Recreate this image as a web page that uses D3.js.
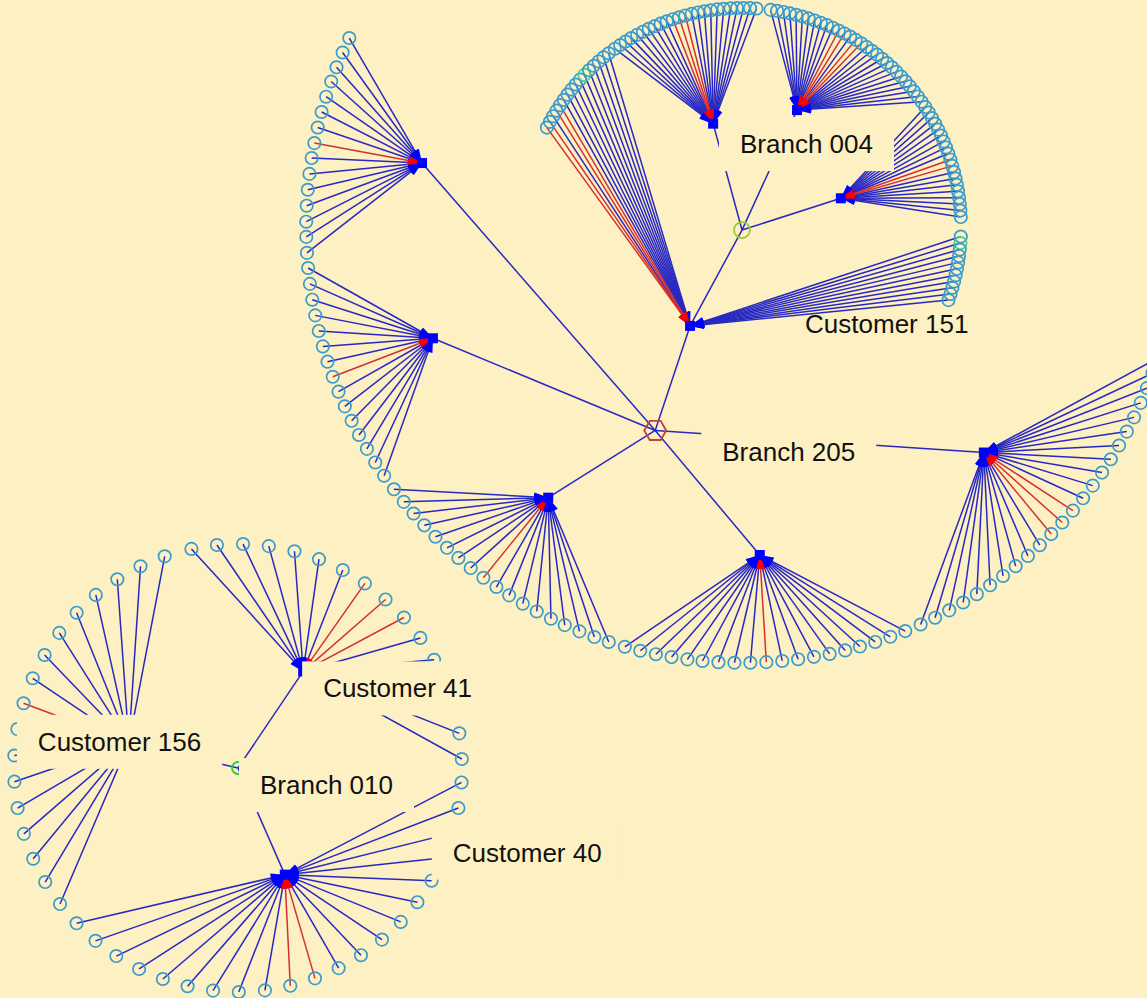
<!DOCTYPE html>
<html>
<head>
<meta charset="utf-8">
<script src="https://cdn.jsdelivr.net/npm/d3@7"></script>
<style>
  body { margin: 0; background: #fdf0c2; }
  svg { display: block; }
</style>
</head>
<body>
<script>
/******************/
/*     data       */
/******************/
// angles are in degrees, clockwise from east
// distances are in "ring units" (1 = the leaf ring of the inner tree)

// network 1 : Branch 205 / Branch 004
var hubIds1    = ["Branch 205", "w1", "w2", "sw", "s", "e", "Customer 151", "Branch 004", "n1", "n2", "ne"];
var hubParent1 = [null, "Branch 205", "Branch 205", "Branch 205", "Branch 205", "Branch 205", "Branch 205", "Customer 151", "Branch 004", "Branch 004", "Branch 004"];
var hubAngle1  = [113.1, 191.3, 160.2, 125.6, 86.9, 43.0, 117.7, 90, 254.4, 295.2, 343.8];
var hubDist1   = [1.01, 1.49, 1.50, 1.52, 1.50, 1.51, 0.51, 0.014, 0.49, 0.59, 0.47];
var leafRing1  = [0, 1.99, 1.99, 1.99, 1.99, 1.99, 1.0, 0, 1.0, 1.0, 1.0];

var leavesW1 = [205.7, 203.6, 201.5, 199.5, 197.4, 195.3, 193.2, 191.1, 189.1, 187.0, 184.9, 182.8, 180.7, 178.7, 176.6];
var redW1 = [7];
var leavesW2 = [174.6, 172.5, 170.4, 168.3, 166.2, 164.1, 162.0, 159.9, 157.8, 155.7, 153.6, 151.5, 149.4, 147.3, 145.2];
var redW2 = [7];
var leavesSW = [143.0, 140.9, 138.9, 136.8, 134.7, 132.6, 130.6, 128.5, 126.4, 124.3, 122.3, 120.2, 118.1, 116.0, 114.0, 111.9, 109.8, 107.8];
var redSW = [8];
var leavesS = [105.6, 103.5, 101.4, 99.3, 97.2, 95.2, 93.1, 91.0, 88.9, 86.8, 84.7, 82.6, 80.5, 78.4, 76.3, 74.3, 72.2, 70.1, 68.0];
var redS = [9];
var leavesE = [65.8, 63.7, 61.6, 59.5, 57.4, 55.3, 53.2, 51.1, 49.0, 46.9, 44.8, 42.7, 40.6, 38.5, 36.4, 34.3, 32.2, 30.1, 28.0, 25.9, 23.8, 21.7, 19.6, 17.5];
var redE = [10, 11, 12];
var leaves151 = [207.0, 208.7, 210.4, 212.1, 213.8, 215.5, 217.2, 218.9, 220.6, 222.3, 224.0, 225.7, 227.4, 229.1, 230.8, 232.5,
                 2.5, 4.2, 5.9, 7.6, 9.3, 11.0, 12.7, 14.4, 16.1, 17.8, 19.5];
var red151 = [0, 1, 3, 4];
var green151 = [10, 17];
var leavesN1 = [234.5, 236.2, 237.9, 239.6, 241.4, 243.1, 244.8, 246.5, 248.2, 249.9, 251.6, 253.3, 255.0, 256.7, 258.4, 260.1,
                261.8, 263.5, 265.2, 267.0, 268.7, 270.4, 272.1, 273.8];
var redN1 = [10, 11, 12];
var leavesN2 = [277.5, 279.2, 280.9, 282.6, 284.3, 286.0, 287.7, 289.4, 291.1, 292.8, 294.5, 296.2, 297.9, 299.6, 301.3, 303.0,
                304.7, 306.4, 308.1, 309.8, 311.5, 313.2, 314.9, 316.6, 318.3, 320.0, 321.7, 323.4, 325.1];
var redN2 = [11, 12, 14, 15];
var leavesNE = [326.8, 328.5, 330.2, 331.9, 333.6, 335.3, 337.0, 338.7, 340.4, 342.1, 343.8, 345.5, 347.2, 348.9, 350.6, 352.3, 354.0, 355.7, 357.4];
var redNE = [9, 10];

// network 2 : Branch 010
var hubIds2    = ["Branch 010", "Customer 41", "Customer 156", "Customer 40"];
var hubParent2 = [null, "Branch 010", "Branch 010", "Branch 010"];
var hubAngle2  = [0, 304.0, 193.0, 66.3];
var hubDist2   = [0, 0.52, 0.50, 0.52];
var leafRing2  = [0, 1.0, 1.0, 1.0];

var leaves41 = [258.0, 264.6, 271.3, 277.9, 284.6, 291.2, 297.9, 304.5, 311.2, 317.8, 324.5, 331.1, 337.8, 344.4, 351.1, 357.7];
var red41 = [7, 8, 9];
var leaves156 = [142.6, 149.4, 156.1, 162.9, 169.7, 176.5, 183.2, 190.0, 196.8, 203.6, 210.3, 217.1, 223.9, 230.6, 237.4, 244.2, 250.9];
var red156 = [8];
var leaves40 = [3.7, 10.3, 16.9, 23.6, 30.2, 36.8, 43.4, 50.0, 56.7, 63.3, 69.9, 76.5, 83.1, 89.8, 96.4, 103.0, 109.6, 116.2, 122.9, 129.5, 136.1];
var red40 = [10, 11];

// labels
var labelText = ["Branch 004", "Customer 151", "Branch 205", "Customer 41", "Customer 156", "Branch 010", "Customer 40"];

/******************/
/*   d3 init var  */
/******************/
var width = 1147, height = 998;
var bg = "#fdf0c2";
var lineBlue = "#2828c4", headBlue = "#0000ff";
var lineRed = "#d43030", headRed = "#ff0000";
var leafColor = "#3a9ccc", leafGreen = "#3fcf90";

var svg = d3.select("body").append("svg")
  .attr("width", width).attr("height", height)
  .style("background", bg)
  .style("font-family", "'Liberation Sans', Arial, sans-serif");

var defs = svg.append("defs");
[["arrBlue", headBlue], ["arrRed", headRed]].forEach(function(m) {
  defs.append("marker")
    .attr("id", m[0])
    .attr("viewBox", "0 -5 14 10")
    .attr("refX", 14).attr("refY", 0)
    .attr("markerWidth", 14).attr("markerHeight", 10)
    .attr("markerUnits", "userSpaceOnUse")
    .attr("orient", "auto")
    .append("path").attr("d", "M0,-4.5L14,0L0,4.5Z").attr("fill", m[1]);
});

var angle = d3.scaleLinear().domain([0, 360]).range([0, 2 * Math.PI]);

// one network = hubs + leaves, laid out round a centre
function makeNet(cx, cy, unit) {
  return {
    x: d3.scaleLinear().domain([-1, 1]).range([cx - unit, cx + unit]),
    y: d3.scaleLinear().domain([-1, 1]).range([cy - unit, cy + unit])
  };
}
var net1 = makeNet(742, 227, 219);
var net2 = makeNet(238, 768, 224);

function pos(net, a, d) {
  return [net.x(d * Math.cos(angle(a))), net.y(d * Math.sin(angle(a)))];
}

var hubs = {}, links = [], edges = [], leafNodes = [];

function buildNet(net, ids, parents, angs, dists, rings, leafSets) {
  ids.forEach(function(id, i) {
    var p = pos(net, angs[i], dists[i]);
    hubs[id] = { id: id, x: p[0], y: p[1] };
  });
  ids.forEach(function(id, i) {
    if (parents[i]) links.push({ s: hubs[parents[i]], t: hubs[id] });
  });
  leafSets.forEach(function(ls) {
    var i = ids.indexOf(ls.hub), h = hubs[ls.hub];
    ls.angles.forEach(function(a, k) {
      var p = pos(net, a, rings[i]);
      var red = ls.red.indexOf(k) >= 0;
      var green = (ls.green || []).indexOf(k) >= 0;
      edges.push({ x1: p[0], y1: p[1], x2: h.x, y2: h.y, red: red });
      leafNodes.push({ x: p[0], y: p[1], green: green });
    });
  });
}

buildNet(net1, hubIds1, hubParent1, hubAngle1, hubDist1, leafRing1, [
  { hub: "w1", angles: leavesW1, red: redW1 },
  { hub: "w2", angles: leavesW2, red: redW2 },
  { hub: "sw", angles: leavesSW, red: redSW },
  { hub: "s", angles: leavesS, red: redS },
  { hub: "e", angles: leavesE, red: redE },
  { hub: "Customer 151", angles: leaves151, red: red151, green: green151 },
  { hub: "n1", angles: leavesN1, red: redN1 },
  { hub: "n2", angles: leavesN2, red: redN2 },
  { hub: "ne", angles: leavesNE, red: redNE }
]);
buildNet(net2, hubIds2, hubParent2, hubAngle2, hubDist2, leafRing2, [
  { hub: "Customer 41", angles: leaves41, red: red41 },
  { hub: "Customer 156", angles: leaves156, red: red156 },
  { hub: "Customer 40", angles: leaves40, red: red40 }
]);

/******************/
/*    d3 draw     */
/******************/
// hub to hub links
svg.append("g").selectAll("line").data(links).enter().append("line")
  .attr("x1", function(d) { return d.s.x; }).attr("y1", function(d) { return d.s.y; })
  .attr("x2", function(d) { return d.t.x; }).attr("y2", function(d) { return d.t.y; })
  .attr("stroke", lineBlue).attr("stroke-width", 1.5);

// leaf edges, blue first then red on top
edges.sort(function(a, b) { return a.red - b.red; });
svg.append("g").selectAll("line").data(edges).enter().append("line")
  .attr("x1", function(d) { return d.x1; }).attr("y1", function(d) { return d.y1; })
  .attr("x2", function(d) { return d.x2; }).attr("y2", function(d) { return d.y2; })
  .attr("stroke", function(d) { return d.red ? lineRed : lineBlue; })
  .attr("stroke-width", 1.5)
  .attr("marker-end", function(d) { return d.red ? "url(#arrRed)" : "url(#arrBlue)"; });

// leaves
svg.append("g").selectAll("circle").data(leafNodes).enter().append("circle")
  .attr("cx", function(d) { return d.x; }).attr("cy", function(d) { return d.y; })
  .attr("r", 6.2)
  .attr("fill", "none")
  .attr("stroke", function(d) { return d.green ? leafGreen : leafColor; })
  .attr("stroke-width", 1.7);

// hub squares
var plain = Object.keys(hubs).filter(function(k) { return k.indexOf("Branch") < 0; });
svg.append("g").selectAll("rect").data(plain).enter().append("rect")
  .attr("x", function(k) { return hubs[k].x - 5; }).attr("y", function(k) { return hubs[k].y - 5; })
  .attr("width", 10).attr("height", 10).attr("fill", headBlue);

// branch symbols
var hex = d3.range(6).map(function(i) {
  var a = Math.PI / 3 * i;
  return [hubs["Branch 205"].x + 11 * Math.cos(a), hubs["Branch 205"].y + 11 * Math.sin(a)];
});
svg.append("polygon").attr("points", hex.join(" "))
  .attr("fill", "none").attr("stroke", "#c8403a").attr("stroke-width", 1.8);
svg.append("circle").attr("cx", hubs["Branch 004"].x).attr("cy", hubs["Branch 004"].y).attr("r", 8)
  .attr("fill", "none").attr("stroke", "#9cc83a").attr("stroke-width", 1.8);
svg.append("circle").attr("cx", hubs["Branch 010"].x).attr("cy", hubs["Branch 010"].y).attr("r", 6)
  .attr("fill", "none").attr("stroke", "#2ecc40").attr("stroke-width", 1.8);

/*************************/
/*        labels         */
/*************************/
// offset of each text from the node it names, and whether it has a box
var labelNode = ["Branch 004", "Customer 151", "Branch 205", "Customer 41", "Customer 156", "Branch 010", "Customer 40"];
var labelOff = [[-2, -77], [115, 7], [67, 31], [20, 26], [-91, 8], [22, 26], [168, -13]];
var labelBox = [true, false, true, true, true, true, true];

labelText.forEach(function(t, i) {
  var h = hubs[labelNode[i]];
  var g = svg.append("g");
  var txt = g.append("text")
    .attr("x", h.x + labelOff[i][0]).attr("y", h.y + labelOff[i][1])
    .attr("font-size", 26).attr("fill", "#111").text(t);
  if (labelBox[i]) {
    var b = txt.node().getBBox();
    g.insert("rect", "text")
      .attr("x", b.x - 21).attr("y", b.y - 12)
      .attr("width", b.width + 42).attr("height", b.height + 24)
      .attr("fill", bg);
  }
});
</script>
</body>
</html>
